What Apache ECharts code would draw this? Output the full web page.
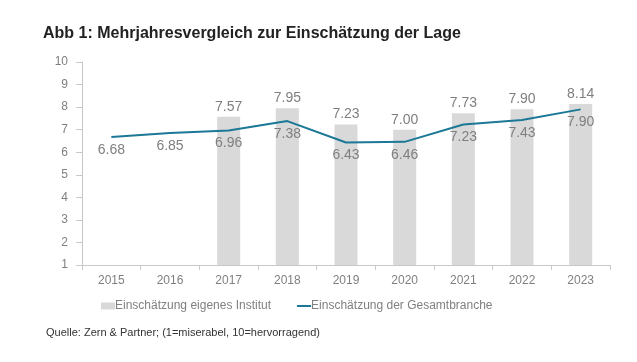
<!DOCTYPE html>
<html><head><meta charset="utf-8">
<script src="https://cdn.jsdelivr.net/npm/echarts@6/dist/echarts.min.js"></script>
<style>html,body{margin:0;padding:0;background:#fff}#c{width:637px;height:362px}</style>
</head><body><div id="c"></div>
<script>
const categories = ['2015','2016','2017','2018','2019','2020','2021','2022','2023'];
const institutValues = [null, null, 7.57, 7.95, 7.23, 7.00, 7.73, 7.90, 8.14];
const brancheValues = [6.68, 6.85, 6.96, 7.38, 6.43, 6.46, 7.23, 7.43, 7.90];
const yTicks = [1,2,3,4,5,6,7,8,9,10];
const titleText = 'Abb 1: Mehrjahresvergleich zur Einschätzung der Lage';
const sourceText = 'Quelle: Zern & Partner; (1=miserabel, 10=hervorragend)';

const font = 'Liberation Sans, Arial, sans-serif';
const chart = echarts.init(document.getElementById('c'), null, {renderer:'canvas'});
chart.setOption({
  animation:false,
  textStyle:{fontFamily:font},
  title:[
    {text:titleText, left:38, top:21, textStyle:{fontFamily:font, fontSize:16, fontWeight:'bold', color:'#222'}},
    {text:sourceText, left:41, top:322, textStyle:{fontFamily:font, fontSize:11, fontWeight:'normal', color:'#333'}}
  ],
  grid:{left:82, right:27, top:62, bottom:97},
  legend:{
    left:96, top:295, itemGap:26, itemWidth:14, itemHeight:7,
    textStyle:{fontFamily:font, fontSize:12, color:'#808080', padding:[0,0,0,-5]},
    data:[
      {name:'Einschätzung eigenes Institut', icon:'rect'},
      {name:'Einschätzung der Gesamtbranche', icon:'path://M0,0L14,0L14,2L0,2Z', itemStyle:{color:'#1b7896', opacity:1}}
    ]
  },
  xAxis:{
    type:'category', data:categories, boundaryGap:true,
    axisLine:{lineStyle:{color:'#c8c8c8'}},
    axisTick:{show:true, length:5, lineStyle:{color:'#c8c8c8'}},
    axisLabel:{color:'#808080', fontSize:12, margin:10, fontFamily:font}
  },
  yAxis:{
    type:'value', min:1, max:10, interval:1,
    splitLine:{show:false},
    axisLine:{show:true, lineStyle:{color:'#c8c8c8'}},
    axisTick:{show:true, length:6, lineStyle:{color:'#c8c8c8'}},
    axisLabel:{color:'#808080', fontSize:12, margin:14, fontFamily:font,
      formatter:function(v){return yTicks.indexOf(v)>=0?String(v):'';}}
  },
  series:[
    {name:'Einschätzung eigenes Institut', type:'bar', data:institutValues, barWidth:23,
      itemStyle:{color:'#d9d9d9'},
      label:{show:true, position:'top', distance:3, color:'#7f7f7f', fontSize:14, fontFamily:font,
        formatter:function(p){return p.value==null?'':p.value.toFixed(2);}}
    },
    {name:'Einschätzung der Gesamtbranche', type:'line', data:brancheValues,
      symbol:'circle', symbolSize:0.01, showSymbol:true,
      lineStyle:{color:'#1b7896', width:2}, itemStyle:{color:'#1b7896'},
      label:{show:true, position:'bottom', distance:6, color:'#7f7f7f', fontSize:14, fontFamily:font,
        formatter:function(p){return p.value.toFixed(2);}}
    }
  ]
});
</script></body></html>
